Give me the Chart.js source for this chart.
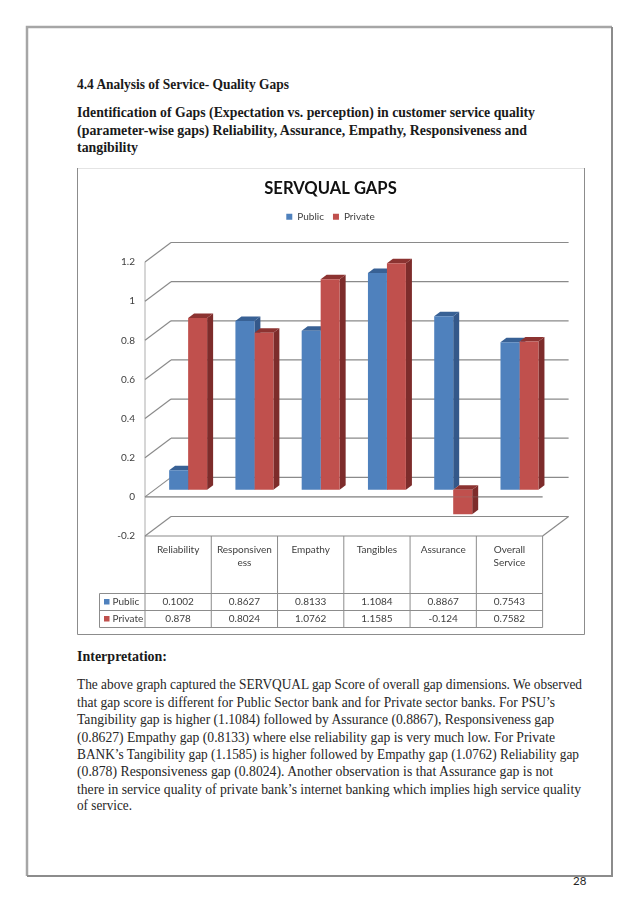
<!DOCTYPE html>
<html>
<head>
<meta charset="utf-8">
<title>SERVQUAL GAPS</title>
<script src="https://cdn.jsdelivr.net/npm/chart.js@4"></script>
<style>
html, body { margin: 0; padding: 0; background: #fff; }
#page { position: absolute; left: 0; top: 0; }
#page text { font-family: "Liberation Serif", serif; font-size: 14.5px; fill: #262626; }
#page text.h { font-weight: bold; fill: #1a1a1a; }
#page text.num { font-family: Lato, sans-serif; font-size: 11.5px; }
#salesBox { position: absolute; left: 77px; top: 168px; width: 507px; height: 466px; }
</style>
</head>
<body>
<svg id="page" width="638" height="903">
  <path d="M27 876V27H612" fill="none" stroke="#a6a6a6" stroke-width="2.5"/>
  <path d="M612 27V876H27" fill="none" stroke="#8c8c8c" stroke-width="2"/>
  <path d="M77.5 168.5H584" fill="none" stroke="#e4e4e4" stroke-width="1"/>
  <path d="M77.5 168V634.5H584.5V168" fill="none" stroke="#8c8c8c" stroke-width="1"/>
  <text class="h" x="77" y="89" textLength="212" lengthAdjust="spacingAndGlyphs">4.4 Analysis of Service- Quality Gaps</text>
  <text class="h" x="77" y="117" textLength="458" lengthAdjust="spacingAndGlyphs">Identification of Gaps (Expectation vs. perception) in customer service quality</text>
  <text class="h" x="77" y="135" textLength="450" lengthAdjust="spacingAndGlyphs">(parameter-wise gaps) Reliability, Assurance, Empathy, Responsiveness and</text>
  <text class="h" x="77" y="152" textLength="61" lengthAdjust="spacingAndGlyphs">tangibility</text>
  <text class="h" x="77" y="661" textLength="90" lengthAdjust="spacingAndGlyphs">Interpretation:</text>
  <text x="77" y="689" textLength="505" lengthAdjust="spacingAndGlyphs">The above graph captured the SERVQUAL gap Score of overall gap dimensions. We observed</text>
  <text x="77" y="706.5" textLength="478" lengthAdjust="spacingAndGlyphs">that gap score is different for Public Sector bank and for Private sector banks. For PSU’s</text>
  <text x="77" y="724" textLength="477" lengthAdjust="spacingAndGlyphs">Tangibility gap is higher (1.1084) followed by Assurance (0.8867), Responsiveness gap</text>
  <text x="77" y="741.5" textLength="478" lengthAdjust="spacingAndGlyphs">(0.8627) Empathy gap (0.8133) where else reliability gap is very much low. For Private</text>
  <text x="77" y="758.5" textLength="502" lengthAdjust="spacingAndGlyphs">BANK’s Tangibility gap (1.1585) is higher followed by Empathy gap (1.0762) Reliability gap</text>
  <text x="77" y="776" textLength="476" lengthAdjust="spacingAndGlyphs">(0.878) Responsiveness gap (0.8024). Another observation is that Assurance gap is not</text>
  <text x="77" y="793.5" textLength="504" lengthAdjust="spacingAndGlyphs">there in service quality of private bank’s internet banking which implies high service quality</text>
  <text x="77" y="810" textLength="55" lengthAdjust="spacingAndGlyphs">of service.</text>
  <text class="num" x="573" y="885">28</text>
</svg>
<div id="salesBox"><canvas id="gapChart" width="507" height="466"></canvas></div>
<script>
// data
const categories = [
    'Reliability', ['Responsiven', 'ess'], 'Empathy',
    'Tangibles', 'Assurance', ['Overall', 'Service']
];
const publicGaps = [0.1002, 0.8627, 0.8133, 1.1084, 0.8867, 0.7543];
const privateGaps = [0.878, 0.8024, 1.0762, 1.1585, -0.124, 0.7582];

const BLUE = '#4f81bd', RED = '#c0504d';
const sideColors = ['#34588a', '#7d2c2b'];
const topColors = ['#386195', '#8c3331'];
const lineColor = '#8a8a8a';
const fontName = 'Lato, sans-serif';

// the bars stand inside the floor, so the walls are offset from the scale area
const frontX = -10, frontY = 7, backX = 16, backY = -12.5;
const barDepthX = 6, barDepthY = 4.5;

function poly(ctx, color, pts) {
    ctx.fillStyle = color;
    ctx.beginPath();
    pts.forEach((p, i) => i ? ctx.lineTo(p[0], p[1]) : ctx.moveTo(p[0], p[1]));
    ctx.closePath();
    ctx.fill();
}

function line(ctx, x1, y1, x2, y2) {
    ctx.beginPath();
    ctx.moveTo(x1, y1);
    ctx.lineTo(x2, y2);
    ctx.stroke();
}

const walls = {
    id: 'walls',
    beforeDatasetsDraw(chart) {
        const ctx = chart.ctx, a = chart.chartArea, y = chart.scales.y;
        ctx.save();
        // left wall
        ctx.strokeStyle = '#c8c8c8';
        ctx.lineWidth = 1.5;
        line(ctx, a.left + frontX, y.getPixelForValue(1.2) + frontY, a.left + frontX, y.getPixelForValue(-0.2) + frontY);
        // back wall grid and the diagonals going to the front
        ctx.strokeStyle = lineColor;
        ctx.lineWidth = 1.2;
        y.ticks.forEach(t => {
            const p = y.getPixelForValue(t.value);
            line(ctx, a.left + frontX, p + frontY, a.left + backX, p + backY);
            line(ctx, a.left + backX, p + backY, a.right + backX, p + backY);
        });
        // floor
        const zero = y.getPixelForValue(0), low = y.getPixelForValue(-0.2);
        line(ctx, a.left + frontX, zero + frontY, a.right + frontX, zero + frontY);
        line(ctx, a.left + frontX, low + frontY, a.right + frontX, low + frontY);
        line(ctx, a.right + frontX, low + frontY, a.right + backX, low + backY);

        // sides and tops of the bars, the fronts are drawn by the library
        chart.data.datasets.forEach((ds, i) => {
            chart.getDatasetMeta(i).data.forEach(bar => {
                const l = bar.x - bar.width / 2, r = bar.x + bar.width / 2;
                const t = Math.min(bar.y, bar.base), b = Math.max(bar.y, bar.base);
                poly(ctx, sideColors[i], [[r, t], [r + barDepthX, t - barDepthY], [r + barDepthX, b - barDepthY], [r, b]]);
                poly(ctx, topColors[i], [[l, t], [l + barDepthX, t - barDepthY], [r + barDepthX, t - barDepthY], [r, t]]);
            });
        });
        ctx.restore();
    },
    afterDatasetsDraw(chart) {
        // the front floor line shows faintly through the negative bar
        const ctx = chart.ctx, a = chart.chartArea, p = chart.scales.y.getPixelForValue(0);
        ctx.save();
        ctx.globalAlpha = 0.35;
        ctx.strokeStyle = lineColor;
        line(ctx, a.left + frontX, p + frontY, a.right + frontX, p + frontY);
        ctx.restore();
    }
};

// data table under the plot
const dataTable = {
    id: 'dataTable',
    afterDraw(chart) {
        const ctx = chart.ctx, a = chart.chartArea, x = chart.scales.x;
        const cell = (a.right - a.left) / categories.length;
        const left = a.left + frontX;
        const top = chart.scales.y.getPixelForValue(-0.2) + frontY;
        const row0 = top + 57.5, row1 = row0 + 17, row2 = row1 + 17;
        const keyLeft = left - 45.5;
        ctx.save();
        ctx.strokeStyle = '#8c8c8c';
        ctx.lineWidth = 1;
        for (let i = 0; i <= categories.length; i++) {
            line(ctx, left + i * cell, top, left + i * cell, row2);
        }
        [row0, row1, row2].forEach(r => line(ctx, keyLeft, r, left + cell * categories.length, r));
        line(ctx, keyLeft, row0, keyLeft, row2);

        ctx.font = '10px ' + fontName;
        ctx.fillStyle = '#404040';
        ctx.textBaseline = 'middle';
        const rows = [[publicGaps, BLUE, 'Public', row0], [privateGaps, RED, 'Private', row1]];
        rows.forEach(([vals, color, name, r]) => {
            ctx.fillStyle = color;
            ctx.fillRect(keyLeft + 4.5, r + 5.5, 5.5, 5.5);
            ctx.fillStyle = '#404040';
            ctx.textAlign = 'left';
            ctx.fillText(name, keyLeft + 13, r + 8.5);
            ctx.textAlign = 'center';
            vals.forEach((v, i) => ctx.fillText(String(v), x.getPixelForValue(i) + frontX, r + 8.5));
        });
        ctx.restore();
    }
};

new Chart(document.getElementById('gapChart').getContext('2d'), {
    type: 'bar',
    data: {
        labels: categories,
        datasets: [
            { label: 'Public', data: publicGaps, backgroundColor: BLUE },
            { label: 'Private', data: privateGaps, backgroundColor: RED }
        ]
    },
    plugins: [walls, dataTable],
    options: {
        responsive: false,
        animation: false,
        layout: { padding: { left: 31.4, right: 31.4, top: 0, bottom: 0 } },
        datasets: { bar: { categoryPercentage: 0.573, barPercentage: 1 } },
        scales: {
            x: {
                grid: { display: false, drawTicks: false },
                border: { display: false },
                afterFit: s => { s.height = 105; },
                ticks: {
                    autoSkip: false, maxRotation: 0, minRotation: 0,
                    padding: 14, labelOffset: frontX,
                    color: '#404040',
                    font: { family: fontName, size: 10, lineHeight: 1.33 }
                }
            },
            y: {
                min: -0.2, max: 1.2,
                grid: { display: false, drawTicks: false },
                border: { display: false },
                afterFit: s => { s.width = 46.6; },
                ticks: {
                    stepSize: 0.2, padding: 20, labelOffset: frontY,
                    color: '#404040',
                    font: { family: fontName, size: 10 },
                    callback: v => String(+v.toFixed(1))
                }
            }
        },
        plugins: {
            tooltip: { enabled: false },
            title: {
                display: true, text: 'SERVQUAL GAPS', color: '#111',
                font: { family: fontName, size: 16.6, weight: 'bold' },
                padding: { top: 11, bottom: 3.8 }
            },
            legend: {
                position: 'top',
                labels: {
                    boxWidth: 6, boxHeight: 6, padding: 9, color: '#404040',
                    font: { family: fontName, size: 10 }
                }
            },
            // blank spacer between the legend and the plot
            subtitle: {
                display: true, text: ' ', weight: 500,
                padding: { top: 0, bottom: 8.9 }
            }
        }
    }
});
</script>
</body>
</html>
